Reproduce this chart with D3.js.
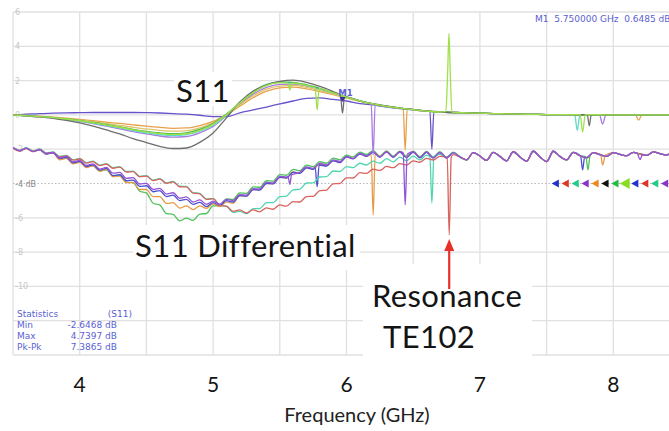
<!DOCTYPE html>
<html lang="en">
<head>
<meta charset="UTF-8">
<title>S11 / S11 Differential - Resonance TE102</title>
<script src="https://d3js.org/d3.v7.min.js"></script>
<style>
  body { margin: 0; background: #fff; }
  svg { display: block; }
  .trace { fill: none; stroke-width: 1.3; stroke-linejoin: round; }
  .note { font-family: Lato, "Open Sans", sans-serif; fill: #141414; }
  .vna { font-family: "DejaVu Sans", Verdana, sans-serif; font-size: 9px; fill: #5b5fd3; }
  .ylab { font-family: "DejaVu Sans", Verdana, sans-serif; font-size: 8px; fill: #c4c4c4; }
</style>
</head>
<body>
<svg width="669" height="431"></svg>
<script>
// S11 traces, dB every 0.1 GHz from 3.5 to 6.6 GHz
const s11Gray     = [0, -0.06, -0.12, -0.2, -0.32, -0.47, -0.65, -0.88, -1.11, -1.38, -1.61, -1.84, -1.96, -1.93, -1.6, -1.05, -0.17, 0.75, 1.39, 1.74, 1.95, 2.03, 1.9, 1.66, 1.36, 1.05, 0.82, 0.64, 0.52, 0.40, 0.32, 0.23];
const s11Green    = [0, -0.05, -0.1, -0.16, -0.24, -0.33, -0.44, -0.56, -0.7, -0.84, -0.96, -1.05, -1.1, -1.05, -0.85, -0.5, 0.05, 0.7, 1.3, 1.75, 1.93, 1.9, 1.75, 1.55, 1.3, 1.05, 0.82, 0.64, 0.5, 0.4, 0.31, 0.22];
const s11Teal     = [0, -0.05, -0.1, -0.17, -0.26, -0.36, -0.48, -0.62, -0.76, -0.91, -1.04, -1.15, -1.2, -1.15, -0.95, -0.6, 0.0, 0.72, 1.35, 1.78, 1.9, 1.86, 1.72, 1.52, 1.28, 1.04, 0.82, 0.64, 0.5, 0.4, 0.31, 0.22];
const s11Orange   = [0, -0.04, -0.08, -0.13, -0.19, -0.26, -0.34, -0.42, -0.5, -0.58, -0.66, -0.73, -0.78, -0.76, -0.62, -0.38, 0.02, 0.5, 1.0, 1.38, 1.58, 1.62, 1.52, 1.36, 1.18, 0.98, 0.8, 0.63, 0.5, 0.39, 0.3, 0.22];
const s11Tan      = [0, -0.04, -0.09, -0.15, -0.22, -0.3, -0.4, -0.5, -0.61, -0.72, -0.82, -0.9, -0.95, -0.92, -0.75, -0.45, 0.02, 0.58, 1.1, 1.5, 1.68, 1.72, 1.6, 1.42, 1.22, 1.0, 0.8, 0.63, 0.5, 0.39, 0.3, 0.22];
const s11Lavender = [0, -0.05, -0.11, -0.18, -0.27, -0.38, -0.51, -0.66, -0.81, -0.97, -1.11, -1.23, -1.3, -1.26, -1.05, -0.68, -0.05, 0.62, 1.2, 1.6, 1.78, 1.8, 1.68, 1.5, 1.27, 1.03, 0.81, 0.63, 0.5, 0.39, 0.3, 0.22];
const s11Violet   = [0, 0.04, 0.08, 0.1, 0.12, 0.13, 0.14, 0.14, 0.14, 0.14, 0.13, 0.11, 0.08, 0.04, -0.02, -0.1, -0.1, 0.12, 0.29, 0.46, 0.64, 0.81, 0.96, 0.99, 0.9, 0.81, 0.66, 0.58, 0.46, 0.37, 0.29, 0.23];
const s11Lime     = [0, -0.05, -0.1, -0.16, -0.24, -0.34, -0.45, -0.58, -0.72, -0.86, -0.99, -1.09, -1.14, -1.1, -0.9, -0.55, 0.02, 0.7, 1.3, 1.72, 1.88, 1.86, 1.72, 1.52, 1.28, 1.04, 0.82, 0.64, 0.5, 0.4, 0.31, 0.22];
// common S11 tail, every 0.1 GHz from 6.7 to 8.5 GHz
const s11Tail = [0.17, 0.14, 0.12, 0.1, 0.08, 0.06, 0.04, 0.03, 0.02, 0.02, 0.01, 0.01, 0.01, 0.0, 0.0, 0.0, 0.0, 0.0, 0.0];
// narrow S11 dips / spike: [trace, GHz, dB]
const s11Notches = [
  ["lime", 5.56, 1.87], ["lime", 5.575, 1.45], ["lime", 5.59, 1.86],
  ["lime", 5.765, 1.58], ["lime", 5.78, 0.3], ["lime", 5.795, 1.53],
  ["gray", 5.955, 1.12], ["gray", 5.97, 0.1], ["gray", 5.985, 1.06],
  ["lavender", 6.185, 0.64], ["lavender", 6.2, -2.35], ["lavender", 6.215, 0.62],
  ["orange", 6.425, 0.37], ["orange", 6.44, -2.05], ["orange", 6.455, 0.35],
  ["violet", 6.625, 0.22], ["violet", 6.64, -2.0], ["violet", 6.655, 0.21],
  ["lime", 6.745, 0.2], ["lime", 6.758, 2.4], ["lime", 6.768, 4.74], ["lime", 6.778, 2.4], ["lime", 6.79, 0.16],
  ["teal", 7.71, 0.02], ["teal", 7.73, -0.9], ["teal", 7.75, 0.02],
  ["lime", 7.752, 0.02], ["lime", 7.77, -1.0], ["lime", 7.79, 0.02],
  ["gray", 7.805, 0.02], ["gray", 7.82, -0.64], ["gray", 7.835, 0.02],
  ["lavender", 7.895, 0.02], ["lavender", 7.92, -0.53], ["lavender", 7.945, 0.01],
  ["orange", 8.165, 0.01], ["orange", 8.19, -0.3], ["orange", 8.215, 0.0]
];

// S11 differential traces, dB every 0.05 GHz from 3.5 to 6.8 GHz
const diffPurple = [-1.91, -2.08, -1.94, -2.13, -2.02, -2.26, -2.18, -2.50, -2.42, -2.74,
  -2.65, -2.95, -2.85, -3.16, -3.06, -3.40, -3.35, -3.70, -3.66, -4.03,
  -3.99, -4.34, -4.28, -4.62, -4.54, -4.86, -4.78, -5.08, -4.96, -5.21,
  -5.03, -5.20, -4.92, -5.00, -4.65, -4.68, -4.30, -4.32, -3.94, -3.96,
  -3.58, -3.62, -3.28, -3.35, -3.03, -3.12, -2.82, -2.92, -2.62, -2.72,
  -2.42, -2.53, -2.25, -2.39, -2.15, -2.45, -2.15, -2.45, -2.15, -2.47,
  -2.15, -2.48, -2.16, -2.50, -2.18, -2.50, -2.20];
const diffBlue = [-1.92, -2.09, -1.95, -2.14, -2.04, -2.28, -2.21, -2.54, -2.48, -2.80,
  -2.71, -3.01, -2.91, -3.22, -3.12, -3.54, -3.49, -3.84, -3.80, -4.17,
  -4.13, -4.48, -4.42, -4.76, -4.68, -5.00, -4.92, -5.22, -5.10, -5.35,
  -5.11, -5.28, -5.00, -5.08, -4.71, -4.74, -4.36, -4.38, -4.00, -4.02,
  -3.64, -3.68, -3.34, -3.41, -3.09, -3.18, -2.88, -2.98, -2.68, -2.78,
  -2.45, -2.56, -2.28, -2.42, -2.18, -2.47, -2.17, -2.47, -2.17, -2.49,
  -2.17, -2.50, -2.18, -2.52, -2.20, -2.52, -2.22];
const diffOrange = [-1.91, -2.09, -1.95, -2.14, -2.04, -2.28, -2.21, -2.62, -2.54, -2.86,
  -2.77, -3.07, -2.97, -3.28, -3.18, -3.60, -3.57, -3.95, -3.94, -4.35,
  -4.35, -4.76, -4.76, -5.16, -5.12, -5.44, -5.30, -5.52, -5.30, -5.45,
  -5.18, -5.35, -5.07, -5.15, -4.70, -4.73, -4.35, -4.37, -3.99, -4.01,
  -3.63, -3.67, -3.33, -3.40, -3.08, -3.17, -2.87, -2.97, -2.67, -2.77,
  -2.44, -2.55, -2.27, -2.40, -2.17, -2.44, -2.14, -2.46, -2.16, -2.47,
  -2.16, -2.49, -2.17, -2.50, -2.19, -2.51, -2.21];
const diffGreen = [-1.90, -2.07, -1.93, -2.12, -2.01, -2.25, -2.17, -2.55, -2.47, -2.80,
  -2.72, -3.03, -2.95, -3.27, -3.20, -3.55, -3.52, -3.92, -3.95, -4.45,
  -4.55, -5.15, -5.25, -5.75, -5.80, -6.18, -6.02, -6.15, -5.78, -5.75,
  -5.30, -5.30, -4.90, -4.92, -4.55, -4.58, -4.20, -4.22, -3.84, -3.86,
  -3.48, -3.52, -3.18, -3.25, -2.93, -3.02, -2.72, -2.82, -2.52, -2.62,
  -2.34, -2.45, -2.17, -2.31, -2.08, -2.40, -2.10, -2.41, -2.11, -2.42,
  -2.12, -2.44, -2.13, -2.46, -2.15, -2.47, -2.17];
const diffTeal = [-1.91, -2.08, -1.92, -2.10, -1.98, -2.22, -2.16, -2.42, -2.36, -2.61,
  -2.54, -2.78, -2.70, -2.93, -2.84, -3.08, -3.02, -3.30, -3.28, -3.58,
  -3.54, -3.80, -3.72, -3.96, -3.88, -4.16, -4.17, -4.53, -4.57, -4.90,
  -4.88, -5.28, -5.34, -5.68, -5.62, -5.76, -5.47, -5.46, -5.12, -5.11,
  -4.77, -4.73, -4.37, -4.33, -3.97, -3.96, -3.62, -3.60, -3.27, -3.30,
  -3.02, -3.08, -2.82, -2.92, -2.70, -2.82, -2.55, -2.74, -2.46, -2.67,
  -2.40, -2.62, -2.35, -2.57, -2.30, -2.50, -2.21];
const diffRed = [-1.94, -2.11, -1.95, -2.13, -2.01, -2.25, -2.19, -2.45, -2.39, -2.64,
  -2.57, -2.81, -2.73, -2.96, -2.87, -3.11, -3.05, -3.33, -3.31, -3.61,
  -3.57, -3.83, -3.75, -3.99, -3.91, -4.19, -4.20, -4.56, -4.60, -4.93,
  -4.88, -5.28, -5.32, -5.63, -5.54, -5.72, -5.54, -5.65, -5.42, -5.50,
  -5.25, -5.32, -5.06, -5.08, -4.76, -4.75, -4.42, -4.38, -4.02, -4.00,
  -3.67, -3.68, -3.37, -3.41, -3.16, -3.24, -3.00, -3.08, -2.84, -2.92,
  -2.68, -2.76, -2.53, -2.63, -2.42, -2.53, -2.32];
// common differential tail, every 0.05 GHz from 6.85 to 8.5 GHz
const diffTail = [-2.45, -2.62, -2.2, -2.4, -2.65, -2.18, -2.42, -2.68, -2.15, -2.45,
  -2.7, -2.12, -2.45, -2.72, -2.12, -2.42, -2.62, -2.18, -2.38, -2.5,
  -2.2, -2.32, -2.42, -2.2, -2.3, -2.38, -2.18, -2.28, -2.36, -2.16,
  -2.26, -2.34, -2.15, -2.25];
const diffNotches = [
  ["purple", 5.562, -3.6], ["purple", 5.575, -4.05], ["purple", 5.588, -3.5],
  ["blue", 5.765, -3.05], ["blue", 5.78, -4.2], ["blue", 5.795, -2.92],
  ["orange", 6.185, -2.3], ["orange", 6.2, -5.84], ["orange", 6.215, -2.25],
  ["purple", 6.425, -2.2], ["purple", 6.44, -5.25], ["purple", 6.455, -2.3],
  ["teal", 6.625, -2.45], ["teal", 6.64, -5.14], ["teal", 6.655, -2.42],
  ["red", 6.755, -2.48], ["red", 6.77, -7.0], ["red", 6.785, -2.46],
  ["blue", 7.755, -2.4], ["blue", 7.77, -3.21], ["blue", 7.785, -2.45],
  ["green", 7.795, -2.45], ["green", 7.81, -3.21], ["green", 7.825, -2.4],
  ["orange", 7.905, -2.3], ["orange", 7.92, -2.92], ["orange", 7.94, -2.35],
  ["purple", 8.18, -2.25], ["purple", 8.2, -2.6], ["purple", 8.22, -2.3]
];

const freqTicks = [4, 5, 6, 7, 8];
const dbTicks = [6, 4, 2, 0, -2, -4, -6, -8, -10];
const marker = { name: "M1", f: 5.97, db: 0.75, readout: "M1  5.750000 GHz  0.6485 dB" };
const statRows = [["Min", "-2.6468 dB"], ["Max", "4.7397 dB"], ["Pk-Pk", "7.3865 dB"]];
const refColors = ["#2233cc", "#e03322", "#22cc88", "#8833cc", "#ee8822", "#111111", "#22bb44", "#88dd22", "#2233cc", "#e03322", "#22cc88", "#8833cc"];

// ---- setup ----
const svg = d3.select("svg");
const W = 669, H = 431;
const x = d3.scaleLinear().domain([3.5, 8.5]).range([13, 680]);
const y = d3.scaleLinear().domain([6, -14]).range([12, 355]);

const s11Color = { gray: "#6e6e6e", green: "#3cb44b", teal: "#5fd8c4", orange: "#e8a04a", tan: "#e0c46a", lavender: "#a77be0", violet: "#6653cc", lime: "#9fe04a" };
const diffColor = { green: "#4cc25a", teal: "#4fd6b0", red: "#d8625c", purple: "#9355d6", blue: "#4a4fd0", orange: "#e89a48" };

const s11Traces = [["violet", s11Violet], ["lavender", s11Lavender], ["orange", s11Orange], ["tan", s11Tan], ["teal", s11Teal], ["green", s11Green], ["gray", s11Gray], ["lime", s11Lime]];
const diffTraces = [["green", diffGreen], ["orange", diffOrange], ["blue", diffBlue], ["teal", diffTeal], ["red", diffRed], ["purple", diffPurple]];

const s11Freq = d3.range(s11Gray.length).map(i => +(3.5 + 0.1 * i).toFixed(3));
const s11TailFreq = d3.range(s11Tail.length).map(i => +(6.7 + 0.1 * i).toFixed(3));
const diffFreq = d3.range(diffPurple.length).map(i => +(3.5 + 0.05 * i).toFixed(3));
const diffTailFreq = d3.range(diffTail.length).map(i => +(6.85 + 0.05 * i).toFixed(3));

function series(key, vals, freqs, tail, tailFreqs, notches) {
  const extra = notches.filter(r => r[0] === key).map(r => [r[1], r[2]]);
  let pts = freqs.map((f, i) => [f, vals[i]]).concat(tailFreqs.map((f, i) => [f, tail[i]]));
  pts = pts.filter(p => !extra.some(e => Math.abs(e[0] - p[0]) < 0.012));
  return pts.concat(extra).sort((a, b) => a[0] - b[0]);
}

svg.append("rect").attr("width", W).attr("height", H).attr("fill", "#fff");
svg.append("clipPath").attr("id", "plot").append("rect")
  .attr("x", 13).attr("y", 12).attr("width", W - 13).attr("height", 343);

// grid
const grid = svg.append("g");
grid.selectAll(".v").data(d3.range(3.5, 8.51, 0.5)).join("line")
  .attr("x1", d => x(d)).attr("x2", d => x(d)).attr("y1", y(6)).attr("y2", y(-14))
  .attr("stroke", "#e0e0e0").attr("stroke-width", 1.3);
grid.selectAll(".h").data(d3.range(6, -14.1, -2)).join("line")
  .attr("x1", x(3.5)).attr("x2", W).attr("y1", d => y(d)).attr("y2", d => y(d))
  .attr("stroke", d => d === -4 ? "#b8b8b8" : "#e0e0e0")
  .attr("stroke-width", d => d === -4 ? 1 : 1.3)
  .attr("stroke-dasharray", d => d === -4 ? "1.5,2" : null);

// y labels (faint, like the analyser screen)
svg.append("g").selectAll("text").data(dbTicks).join("text")
  .attr("class", "ylab")
  .attr("x", 15).attr("y", d => y(d) + 3)
  .style("fill", d => d === -4 ? "#8a8a8a" : "#c8c8c8")
  .text(d => d === -4 ? "-4 dB" : String(d));

const boxLayer = svg.append("g");

const line = d3.line().x(d => x(d[0])).y(d => y(d[1])).curve(d3.curveMonotoneX);
const traces = svg.append("g").attr("clip-path", "url(#plot)");

traces.selectAll(".diff").data(diffTraces).join("path")
  .attr("class", "trace")
  .attr("stroke", d => diffColor[d[0]])
  .attr("d", d => line(series(d[0], d[1], diffFreq, diffTail, diffTailFreq, diffNotches)));

traces.selectAll(".s11").data(s11Traces).join("path")
  .attr("class", "trace")
  .attr("stroke", d => s11Color[d[0]])
  .attr("d", d => line(series(d[0], d[1], s11Freq, s11Tail, s11TailFreq, s11Notches)));

// marker M1
const mx = x(marker.f), my = y(marker.db);
svg.append("path").attr("d", `M${mx},${my} l-3,-5 l6,0 z`).attr("fill", "#33339a");
svg.append("text").attr("class", "vna").attr("x", mx + 3).attr("y", my - 6)
  .attr("text-anchor", "middle").style("font-size", "8.5px").style("font-weight", "bold").text(marker.name);
svg.append("text").attr("class", "vna").attr("x", 535).attr("y", 22)
  .attr("xml:space", "preserve").style("white-space", "pre").text(marker.readout);

// reference level markers
svg.append("g").selectAll("path").data(refColors).join("path")
  .attr("fill", d => d)
  .attr("d", (d, i) => {
    const cx = x(7.568 + 0.0745 * i), cy = y(-4), s = i === 7 ? 5.5 : 4;
    return `M${cx - s},${cy} L${cx + s * 0.8},${cy - s} L${cx + s * 0.8},${cy + s} Z`;
  });

// statistics block
const stats = svg.append("g").attr("class", "vna");
stats.append("text").attr("x", 17).attr("y", 317).text("Statistics");
stats.append("text").attr("x", 132).attr("y", 317).attr("text-anchor", "end").text("(S11)");
stats.selectAll(".row").data(statRows).join("g").each(function (d, i) {
  const g = d3.select(this);
  g.append("text").attr("x", 17).attr("y", 328 + i * 11.2).text(d[0]);
  g.append("text").attr("x", 117).attr("y", 328 + i * 11.2).attr("text-anchor", "end").text(d[1]);
});

// annotations with white backing
const notes = svg.append("g");
function note(txt, f, db, size) {
  return notes.append("text").attr("class", "note").attr("x", x(f)).attr("y", y(db))
    .style("font-size", size + "px").style("letter-spacing", "0.4px").text(txt);
}
function backing(nodes, pad) {
  const bs = nodes.map(n => n.node().getBBox());
  const x0 = d3.min(bs, b => b.x) - pad[3], x1 = d3.max(bs, b => b.x + b.width) + pad[1];
  const y0 = d3.min(bs, b => b.y) - pad[0], y1 = d3.max(bs, b => b.y + b.height) + pad[2];
  boxLayer.append("rect").attr("x", x0).attr("y", y0).attr("width", x1 - x0).attr("height", y1 - y0).attr("fill", "#fff");
}
const tS11 = note("S11", 4.722, 0.75, 31);
backing([tS11], [-1, 2, -3, 2]);
const tDiff = note("S11 Differential", 4.415, -8.29, 31);
backing([tDiff], [1, 4, 6, 2]);
const tRes = note("Resonance", 6.191, -11.2, 31);
const tTe = note("TE102", 6.274, -13.59, 31);
backing([tRes, tTe], [12, 10, 12, 9]);

// arrow to the TE102 dip
const ax = x(6.77);
svg.append("line").attr("x1", ax).attr("x2", ax).attr("y1", 289).attr("y2", 248)
  .attr("stroke", "#e8302a").attr("stroke-width", 2.2);
svg.append("path").attr("d", `M${ax},${239} L${ax - 5},${251} L${ax + 5},${251} Z`).attr("fill", "#e8302a");

// frequency axis labels
svg.append("g").selectAll("text").data(freqTicks).join("text")
  .attr("class", "note").attr("x", d => x(d)).attr("y", 392)
  .attr("text-anchor", "middle").style("font-size", "21px").text(d => d);
svg.append("text").attr("class", "note").attr("x", 357).attr("y", 422)
  .attr("text-anchor", "middle").style("font-size", "20px").style("fill", "#222")
  .text("Frequency (GHz)");
</script>
</body>
</html>
